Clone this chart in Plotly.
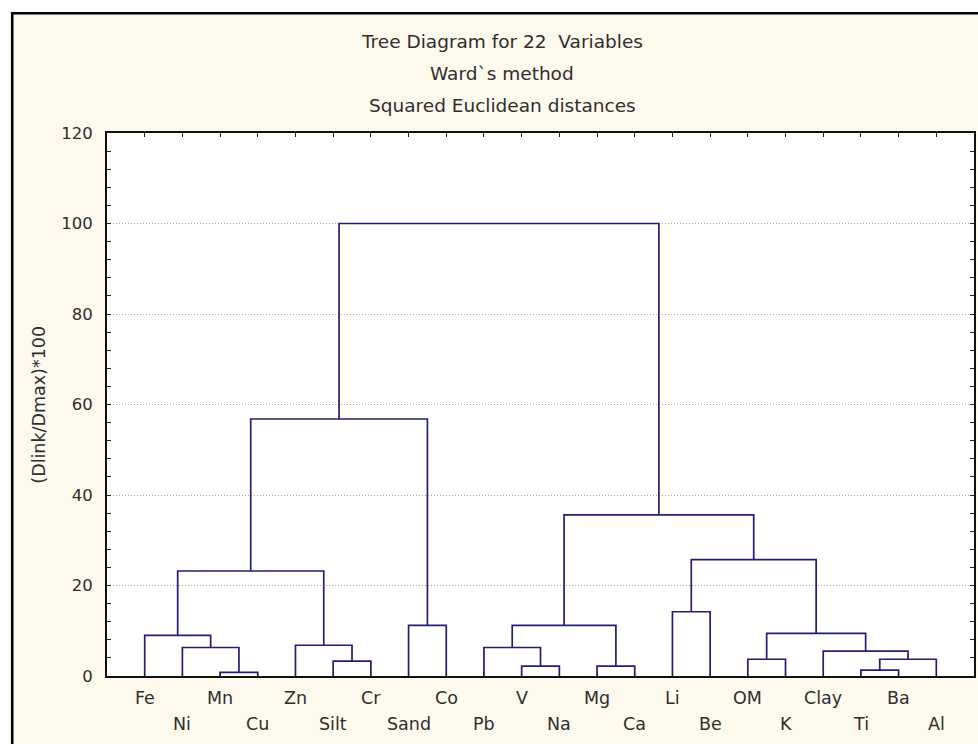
import plotly.graph_objects as go

# Leaf order along the bottom axis
leaf_labels = ["Fe", "Ni", "Mn", "Cu", "Zn", "Silt", "Cr", "Sand", "Co", "Pb", "V",
               "Na", "Mg", "Ca", "Li", "Be", "OM", "K", "Clay", "Ti", "Ba", "Al"]

# Linkage steps: node ids < 22 are leaves, id 22 + k is the cluster formed at step k
merge_left = [2, 1, 0, 5, 4, 24, 7, 27, 10, 9, 12, 31, 14, 16, 19, 36, 18, 35, 34, 33, 29]
merge_right = [3, 22, 23, 6, 25, 26, 8, 28, 11, 30, 13, 32, 15, 17, 20, 21, 37, 38, 39, 40, 41]
merge_height = [0.8, 6.3, 9.0, 3.3, 6.8, 23.2, 11.2, 56.8, 2.2, 6.3, 2.2, 11.2,
                14.2, 3.7, 1.3, 3.7, 5.5, 9.4, 25.7, 35.6, 100.0]

y_ticks = [0, 20, 40, 60, 80, 100, 120]
title_lines = ["Tree Diagram for 22  Variables", "Ward`s method", "Squared Euclidean distances"]
y_title = "(Dlink/Dmax)*100"

n = len(leaf_labels)
leaf_x = list(range(1, n + 1))

# Walk the linkage and build the bracket polylines
node_x = {i: leaf_x[i] for i in range(n)}
node_h = {i: 0.0 for i in range(n)}
xs, ys = [], []
for k, (a, b, h) in enumerate(zip(merge_left, merge_right, merge_height)):
    xa, xb = node_x[a], node_x[b]
    xs += [xa, xa, xb, xb, None]
    ys += [node_h[a], h, h, node_h[b], None]
    node_x[n + k] = (xa + xb) / 2
    node_h[n + k] = h

W, H = 978, 744
L, R, T, B = 107, 2, 133, 68
pw, ph = W - L - R, H - T - B


def px_x(p):
    return (p - L) / pw


def px_y(p):
    return (H - B - p) / ph


font = "DejaVu Sans, Verdana, sans-serif"
fsize = 17
txt = "#2e2e2e"
line_col = "#1f1f78"

fig = go.Figure()
fig.add_trace(go.Scatter(x=xs, y=ys, mode="lines",
                         line=dict(color=line_col, width=1.7),
                         hoverinfo="skip", showlegend=False))

annotations = []
for t, yy in zip(title_lines, [41.5, 73.5, 105.5]):
    annotations.append(dict(text=t.replace("  ", " &nbsp;"), xref="paper", yref="paper",
                            x=px_x(503), y=px_y(yy),
                            xanchor="center", yanchor="middle", showarrow=False,
                            font=dict(family=font, size=18.5, color=txt)))

# Staggered leaf labels in two rows
for i, lab in enumerate(leaf_labels):
    annotations.append(dict(text=lab, xref="x", yref="paper", x=leaf_x[i],
                            y=px_y(698 if i % 2 == 0 else 724),
                            xanchor="center", yanchor="middle", showarrow=False,
                            font=dict(family=font, size=17.5, color=txt)))

annotations.append(dict(text=y_title, xref="paper", yref="paper",
                        x=px_x(38), y=0.5, textangle=-90,
                        xanchor="center", yanchor="middle", showarrow=False,
                        font=dict(family=font, size=17.5, color=txt)))

cream = "#fef9ed"
shapes = [
    # white margin outside the outer frame
    dict(type="rect", xref="paper", yref="paper", x0=px_x(-5), x1=px_x(W + 5),
         y0=px_y(12.2), y1=px_y(-5), fillcolor="white", line=dict(width=0), layer="above"),
    dict(type="rect", xref="paper", yref="paper", x0=px_x(-5), x1=px_x(10.8),
         y0=px_y(H + 5), y1=px_y(-5), fillcolor="white", line=dict(width=0), layer="above"),
    # outer frame
    dict(type="line", xref="paper", yref="paper", x0=px_x(10.8), x1=px_x(W + 5),
         y0=px_y(13.3), y1=px_y(13.3), line=dict(color="black", width=2.6), layer="above"),
    dict(type="line", xref="paper", yref="paper", x0=px_x(12), x1=px_x(12),
         y0=px_y(12.2), y1=px_y(H + 5), line=dict(color="black", width=2.6), layer="above"),
]

fig.update_layout(
    width=W, height=H,
    margin=dict(l=L, r=R, t=T, b=B),
    paper_bgcolor=cream, plot_bgcolor="white",
    annotations=annotations, shapes=shapes,
    font=dict(family=font, size=fsize, color=txt),
    xaxis=dict(range=[0, n + 1], tickvals=leaf_x, showticklabels=False,
               ticks="inside", ticklen=4, tickcolor="#222", mirror="ticks",
               showline=True, linecolor="#111", linewidth=1.8,
               showgrid=False, zeroline=False, fixedrange=True),
    yaxis=dict(range=[0, 120], tickvals=y_ticks, ticks="inside", ticklen=4,
               tickcolor="#222", mirror="ticks", showline=True, linecolor="#111",
               linewidth=1.8, showgrid=True, gridcolor="#a8a8a8", griddash="1px,2px",
               gridwidth=1, zeroline=False, ticklabelstandoff=9,
               tickfont=dict(family=font, size=16.5, color=txt),
               minor=dict(dtick=4, ticks="inside", ticklen=4, tickcolor="#222",
                          showgrid=False),
               fixedrange=True),
)

fig.write_html("out.html")
